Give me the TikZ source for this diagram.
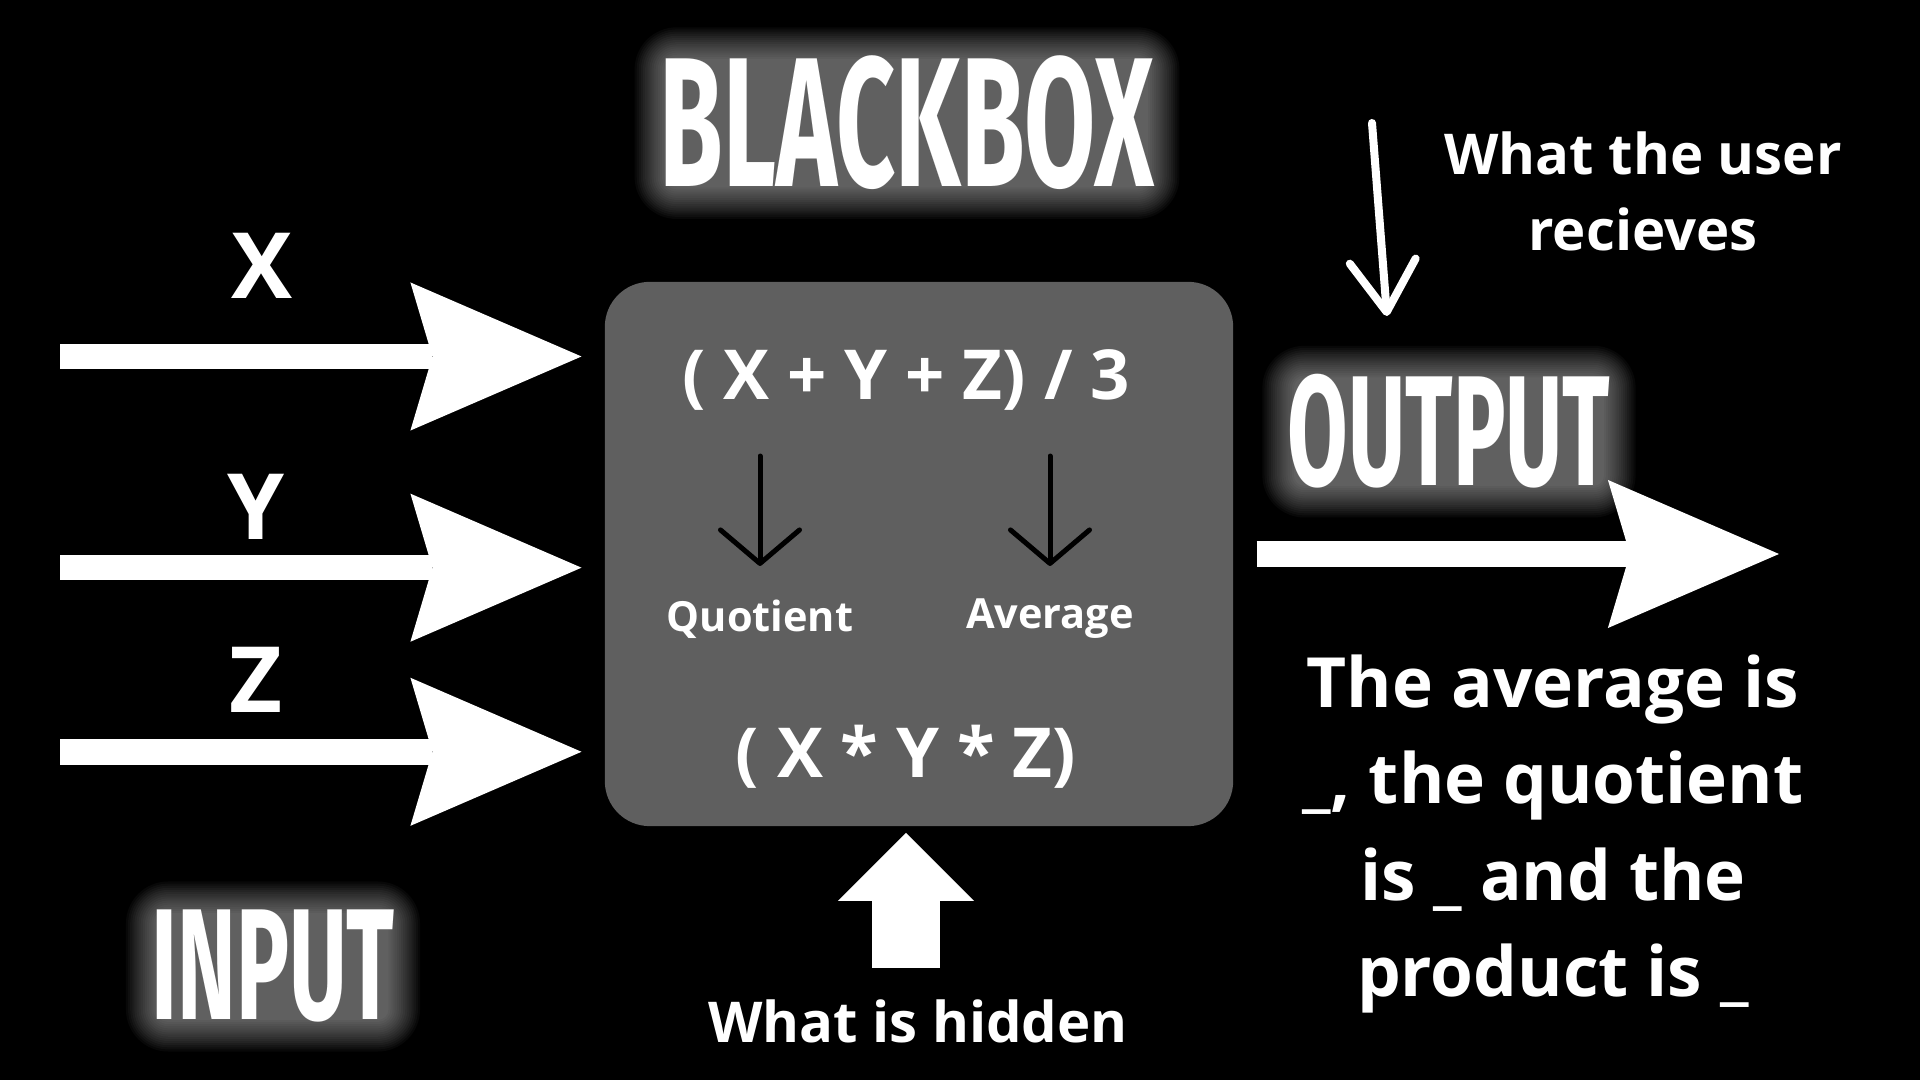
\documentclass[tikz,border=0pt]{standalone}
\usepackage{fontspec}
\setmainfont{Open Sans}
\newfontfamily\titlefont[FakeStretch=0.56]{Fira Sans}
\usetikzlibrary{arrows.meta,calc,positioning}

\definecolor{boxgray}{HTML}{5F5F5F}

\tikzset{
  glow/.style={font=\titlefont\bfseries\fontsize{#1}{#1}\selectfont, text=white, inner sep=0pt, anchor=base},
  plaintext/.style={font=\bfseries\fontsize{#1}{#1}\selectfont, text=white, inner sep=0pt, anchor=base},
  formula/.style={plaintext=19.6},
  hiddenbox/.style={fill=boxgray, rounded corners=0.45cm, minimum width=6.28cm, minimum height=5.44cm, inner sep=0pt},
  bigarrow/.style={white, line width=0.255cm, -{Stealth[length=1.71cm, width=1.48cm, inset=0.22cm, line width=0pt]}},
  thinarrow/.style={black, line width=0.05cm, line cap=round, -{Straight Barb[length=0.335cm, width=0.79cm, round]}},
  handarrow/.style={white, line width=0.08cm, line cap=round, -{Straight Barb[length=0.51cm, width=0.66cm, round]}},
  blockarrow/.style={white, line width=0.68cm, -{Triangle[length=0.68cm, width=1.36cm, line width=0pt]}}
}

% glowing title: a soft haze of stacked translucent boxes
\newcommand{\glowtitle}[4]{%
  \node[glow=#3] (#1) at (#2) {#4};
  \foreach \i in {0,...,15}{
    \fill[white, fill opacity=0.032, rounded corners=\i*0.6pt+3pt]
      ([shift={(-\i*0.6pt+2pt,-\i*0.6pt+1pt)}]#1.south west) rectangle ([shift={(\i*0.6pt-2pt,\i*0.6pt-1pt)}]#1.north east);
  }
}

\begin{document}
\begin{tikzpicture}[x=0.01cm, y=-0.01cm]
  \fill[black] (0,0) rectangle (1920,1080);
  \useasboundingbox (0,0) rectangle (1920,1080);

  % titles
  \glowtitle{blackbox}{907,187}{52.4}{BLACKBOX}
  \glowtitle{output}{1449,486}{44.6}{OUTPUT}
  \glowtitle{input}{273,1020}{45}{INPUT}

  % the box
  \node[hiddenbox] (box) at (919,554) {};
  \node[formula] (sum) at (906,400) {( X + Y + Z) / 3};
  \node[formula] (prod) at (906,778) {( X * Y * Z)};
  \node[plaintext=11.8] (quot) at (760,632) {Quotient};
  \node[plaintext=11.8] (avg) at (1050,629) {Average};

  \draw[thinarrow, shorten <=0.56cm, shorten >=0.66cm] (sum.base -| quot.base) -- (quot.base);
  \draw[thinarrow, shorten <=0.56cm, shorten >=0.63cm] (sum.base -| avg.base) -- (avg.base);

  % inputs
  \node[plaintext=26] (xin) at (262,299) {X};
  \node[plaintext=26] (yin) at (256,540) {Y};
  \node[plaintext=26] (zin) at (256,713) {Z};
  \foreach \n/\y in {x/356.5, y/567.7, z/751.8}{
    \coordinate (start\n) at (60,\y);
    \draw[bigarrow, shorten >=0.226cm] (start\n) -- (start\n -| box.west);
  }

  % output
  \coordinate (outtip) at (1779,554);
  \draw[bigarrow, shorten <=0.226cm] (box.east |- outtip) -- (outtip);

  \node[font=\bfseries\fontsize{16}{21.6}\selectfont, text=white, inner sep=0pt, anchor=north, align=center] (user) at (1643,131) {What the user\\recieves};
  \coordinate (usertail) at (1372,123);
  \coordinate (userhead) at (1387,316);
  \draw[handarrow] (usertail) -- (userhead);

  \node[font=\bfseries\fontsize{19.7}{27.45}\selectfont, text=white, inner sep=0pt, anchor=north, align=center] (result) at (1553,654)
    {The average is\\\_, the quotient\\is \_ and the\\product is \_};

  % hidden
  \node[plaintext=16] (hidden) at (918,1043) {What is hidden};
  \coordinate (hidtail) at (906,968);
  \draw[blockarrow, shorten >=0.06cm] (hidtail) -- (hidtail |- box.south);
\end{tikzpicture}
\end{document}
